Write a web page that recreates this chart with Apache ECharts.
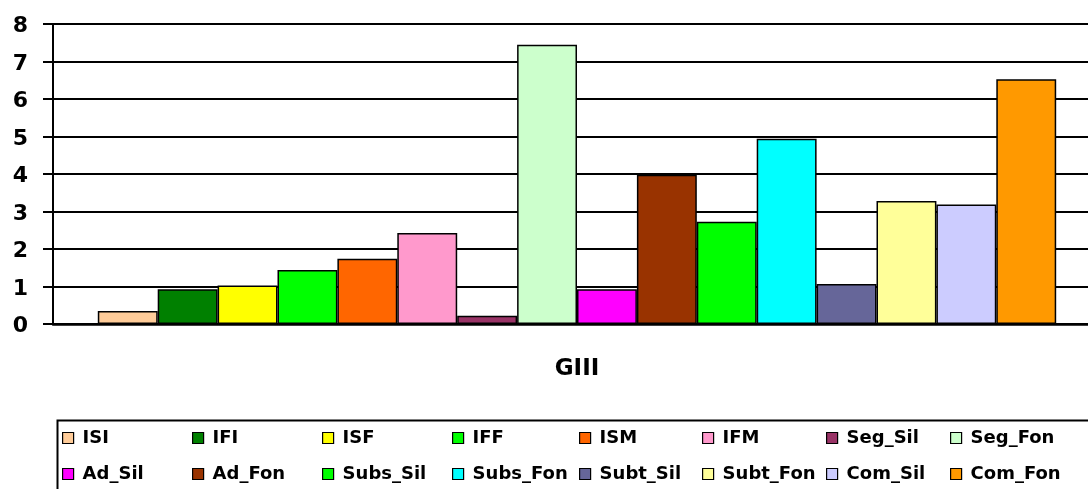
<!DOCTYPE html>
<html>
<head>
<meta charset="utf-8">
<script src="https://cdn.jsdelivr.net/npm/echarts@6/dist/echarts.min.js"></script>
<style>html,body{margin:0;padding:0;background:#fff;overflow:hidden;}#c{width:1101px;height:489px;}</style>
</head>
<body>
<div id="c"></div>
<script>
var categories = ['GIII'];
var seriesNames = ['ISI','IFI','ISF','IFF','ISM','IFM','Seg_Sil','Seg_Fon','Ad_Sil','Ad_Fon','Subs_Sil','Subs_Fon','Subt_Sil','Subt_Fon','Com_Sil','Com_Fon'];
var seriesValues = [0.35, 0.93, 1.03, 1.44, 1.74, 2.43, 0.22, 7.45, 0.93, 3.98, 2.73, 4.94, 1.07, 3.28, 3.19, 6.53];
var seriesColors = ['#FFCC99','#008000','#FFFF00','#00FF00','#FF6600','#FF99CC','#993366','#CCFFCC','#FF00FF','#993300','#00FF00','#00FFFF','#666699','#FFFF99','#CCCCFF','#FF9900'];
var yTicks = [0,1,2,3,4,5,6,7,8];
var legendColumnX = [62, 192, 322, 452, 579, 702, 826, 950];
var legendRowY = [428, 464];

var FONT = '"DejaVu Sans", "Liberation Sans", sans-serif';
var chart = echarts.init(document.getElementById('c'), null, {renderer:'canvas'});

var series = seriesNames.map(function(n, i){
  return {
    name: n, type: 'bar',
    data: [seriesValues[i]],
    barGap: '0%', barWidth: 59.9,
    itemStyle: {color: seriesColors[i], borderColor: '#000', borderWidth: 1.5},
    emphasis: {disabled: true}
  };
});

var legends = seriesNames.map(function(n, i){
  var col = i % 8, row = Math.floor(i / 8);
  return {
    left: legendColumnX[col], top: legendRowY[row], orient: 'horizontal', padding: 0,
    itemWidth: 11, itemHeight: 11,
    icon: 'rect',
    itemStyle: {borderColor: '#000', borderWidth: 1.2},
    textStyle: {fontFamily: FONT, fontWeight: 'bold', fontSize: 18, color: '#000', lineHeight: 20, padding: [0,0,0,4]},
    data: [n],
    selectedMode: false
  };
});

chart.setOption({
  animation: false,
  backgroundColor: '#fff',
  grid: {left: 53, top: 24, right: 0, height: 300, containLabel: false},
  xAxis: {
    type: 'category', data: categories,
    axisLine: {lineStyle: {color: '#000', width: 2.5}},
    axisTick: {show: false},
    axisLabel: {margin: 34, fontFamily: FONT, fontWeight: 'bold', fontSize: 23, color: '#000'}
  },
  yAxis: {
    type: 'value', min: 0, max: 8, interval: 1,
    axisLine: {show: true, lineStyle: {color: '#000', width: 2}},
    axisTick: {show: true, length: 10, lineStyle: {color: '#000', width: 2}},
    axisLabel: {margin: 25, fontFamily: FONT, fontWeight: 'bold', fontSize: 22, color: '#000',
      verticalAlign: 'top', lineHeight: 5,
      formatter: function(v){ return yTicks.indexOf(v) >= 0 ? String(v) : ''; }},
    splitLine: {show: true, lineStyle: {color: '#000', width: 2}}
  },
  legend: legends,
  graphic: [{
    type: 'rect', left: 55, top: 418, silent: true,
    shape: {width: 1100, height: 100},
    style: {fill: 'none', stroke: '#000', lineWidth: 2}
  }],
  series: series
});
</script>
</body>
</html>
